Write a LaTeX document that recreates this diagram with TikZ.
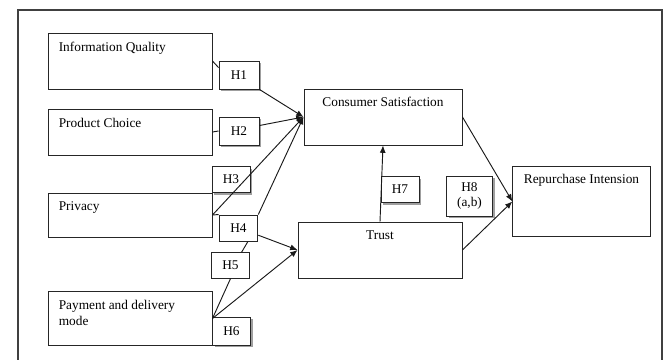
\documentclass[tikz,border=0pt]{standalone}
\usepackage{fontspec}
\setmainfont{Liberation Serif}
\usetikzlibrary{arrows.meta,positioning,shapes,calc,shadows}

\begin{document}
\begin{tikzpicture}[x=0.75pt, y=-0.75pt, >={Latex[length=5.5pt,width=4.5pt]},
    every node/.style={font=\fontsize{10}{12}\selectfont},
    box/.style={draw=black!85, line width=0.7pt, fill=white, inner sep=0pt},
    hyp/.style={box, drop shadow={shadow xshift=1.8pt, shadow yshift=-1.8pt, fill=gray!75, opacity=1}},
    flat/.style={box},
    lbl/.style={inner sep=0pt},
    link/.style={black!90, line width=0.7pt}]
                \path[use as bounding box, clip] (0,0) rectangle (672,360);
                % Frame
                \draw[black!75, line width=1pt] (18,10) rectangle (662,366);

                % Constructs
                \node[box, minimum width=123pt, minimum height=42pt] (iq) at (130,61) {};
                \node[box, minimum width=123pt, minimum height=34.5pt] (pc) at (130,132) {};
                \node[box, minimum width=123pt, minimum height=33pt] (pv) at (130,215) {};
                \node[box, minimum width=123pt, minimum height=40pt] (pm) at (130,318.5) {};
                \node[box, minimum width=118.5pt, minimum height=42pt] (cs) at (383,117) {};
                \node[box, minimum width=123pt, minimum height=42pt] (tr) at (380,250) {};
                \node[box, minimum width=103pt, minimum height=53pt] (ri) at (581.5,201.5) {};

                \node[lbl, anchor=north west] (iqt) at ($(iq.north west)+(11,9)$) {Information Quality};
                \node[lbl, anchor=north west] (pct) at ($(pc.north west)+(11,9)$) {Product Choice};
                \node[lbl, anchor=north west] (pvt) at ($(pv.north west)+(11,9)$) {Privacy};
                \node[lbl, anchor=north west, align=left] (pmt) at ($(pm.north west)+(11,9)$) {Payment and delivery\\mode};
                \node[lbl, anchor=north] (cst) at ($(cs.north)+(0,8)$) {Consumer Satisfaction};
                \node[lbl, anchor=north] (trt) at ($(tr.north)+(0,9)$) {Trust};
                \node[lbl, anchor=north] (rit) at ($(ri.north)+(0,8)$) {Repurchase Intension};

                % Hypotheses
                \node[hyp, minimum width=30pt, minimum height=21pt] (h1) at (239,75) {H1};
                \node[hyp, minimum width=30pt, minimum height=21pt] (h2) at (239,131) {H2};
                \node[hyp, minimum width=28.5pt, minimum height=20pt] (h3) at (231,179.5) {H3};
                \node[flat, minimum width=29pt, minimum height=19.5pt] (h4) at (238.5,228) {H4};
                \node[flat, minimum width=28pt, minimum height=19pt] (h5) at (230.5,265.5) {H5};
                \node[hyp, minimum width=29pt, minimum height=21pt] (h6) at (231.5,331) {H6};
                \node[hyp, minimum width=28.5pt, minimum height=20pt] (h7) at (400,189.5) {H7};
                \node[hyp, minimum width=34pt, minimum height=30pt, align=center,
                      font=\fontsize{10}{11}\selectfont] (h8) at (469.5,196) {H8\\(a,b)};

                % Paths to satisfaction
                \draw[link] (iq.east) -- (h1.160);
                \draw[link, ->] (h1.south east) -- (cs.west);
                \draw[link] (pc.east) -- (h2.west);
                \draw[link, ->] (h2.15) -- (cs.west);
                \draw[link, ->] (pv.east) -- (cs.west);
                \draw[link] (pv.east) -- (h4.north west);
                \draw[link, ->] (h4.north east) -- (cs.west);

                % Paths to trust
                \draw[link, ->] (h4.-20) -- (tr.west);
                \draw[link] (h4.-55) -- (h5.50);
                \draw[link] (h5.south) -- (pm.east);
                \draw[link, ->] (pm.east) -- (tr.west);
                \draw[link, ->] (tr.north) -- (cs.south);

                % Paths to repurchase
                \draw[link, ->] (cs.east) -- (ri.west);
                \draw[link, ->] (tr.east) -- (ri.west);
            \end{tikzpicture}
\end{document}
